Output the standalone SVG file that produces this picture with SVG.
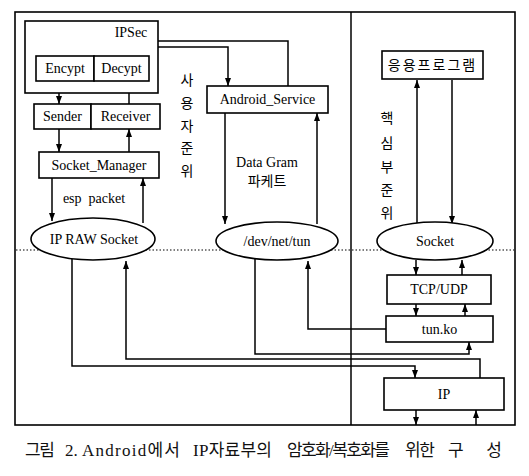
<svg xmlns="http://www.w3.org/2000/svg" width="529" height="476" viewBox="0 0 529 476">
<style>
.box{fill:#fff;stroke:#000;stroke-width:1.6}
.ln{fill:none;stroke:#000;stroke-width:1.5}
.t{font-family:"Liberation Serif","Times New Roman",serif;font-size:14px;fill:#000;text-anchor:middle}
.k{font-family:"Noto Sans CJK KR","Noto Sans",sans-serif;font-size:14px;fill:#000;text-anchor:middle}
</style>
<defs>
<marker id="ah" viewBox="0 0 8 6" refX="8" refY="3" markerWidth="8" markerHeight="6" markerUnits="userSpaceOnUse" orient="auto">
<path d="M0,0 L8,3 L0,6 Z" fill="#000"/>
</marker>
</defs>
<rect width="529" height="476" fill="#fff"/>
<g id="frame">
<rect x="15" y="12" width="500" height="413" fill="none" stroke="#000" stroke-width="1.6"/>
<line x1="351" y1="12" x2="351" y2="425" stroke="#000" stroke-width="1.5"/>
<line x1="16" y1="250" x2="514" y2="250" stroke="#000" stroke-width="1.2" stroke-dasharray="1.5,2"/>
</g>
<g id="connectors">
<polyline class="ln" points="288,86 288,41 66,41 66,56" marker-end="url(#ah)"/>
<polyline class="ln" points="122,56 122,47 228,47 228,86" marker-end="url(#ah)"/>
<line class="ln" x1="59" y1="81" x2="59" y2="104" marker-end="url(#ah)"/>
<line class="ln" x1="129" y1="104" x2="129" y2="81" marker-end="url(#ah)"/>
<line class="ln" x1="59" y1="129" x2="59" y2="152" marker-end="url(#ah)"/>
<line class="ln" x1="129" y1="152" x2="129" y2="129" marker-end="url(#ah)"/>
<line class="ln" x1="52" y1="178" x2="52" y2="221" marker-end="url(#ah)"/>
<line class="ln" x1="143" y1="223" x2="143" y2="178" marker-end="url(#ah)"/>
<line class="ln" x1="225" y1="113" x2="225" y2="224" marker-end="url(#ah)"/>
<line class="ln" x1="317" y1="224" x2="317" y2="113" marker-end="url(#ah)"/>
<line class="ln" x1="417" y1="224" x2="417" y2="80" marker-end="url(#ah)"/>
<line class="ln" x1="452" y1="80" x2="452" y2="224" marker-end="url(#ah)"/>
<line class="ln" x1="416" y1="260" x2="416" y2="275" marker-end="url(#ah)"/>
<line class="ln" x1="462" y1="275" x2="462" y2="260" marker-end="url(#ah)"/>
<line class="ln" x1="416" y1="304" x2="416" y2="316" marker-end="url(#ah)"/>
<line class="ln" x1="465" y1="316" x2="465" y2="304" marker-end="url(#ah)"/>
<polyline class="ln" points="72,258 72,366 415,366 415,378" marker-end="url(#ah)"/>
<polyline class="ln" points="480,378 480,359 126,359 126,261" marker-end="url(#ah)"/>
<polyline class="ln" points="255,259 255,354 469,354 469,342" marker-end="url(#ah)"/>
<polyline class="ln" points="386,329 308,329 308,261" marker-end="url(#ah)"/>
<line class="ln" x1="416" y1="410" x2="416" y2="425" marker-end="url(#ah)"/>
<line class="ln" x1="476" y1="425" x2="476" y2="410" marker-end="url(#ah)"/>
</g>
<g id="ipsec">
<rect class="box" x="25" y="21" width="133" height="72" fill="none"/>
<text class="t" x="131" y="37" font-size="15">IPSec</text>
</g>
<g id="encypt">
<rect class="box" x="36" y="56" width="58" height="25"/>
<text class="t" x="65" y="73">Encypt</text>
</g>
<g id="decypt">
<rect class="box" x="94" y="56" width="55" height="25"/>
<text class="t" x="121.5" y="73">Decypt</text>
</g>
<g id="sender">
<rect class="box" x="34" y="104" width="57" height="25"/>
<text class="t" x="62.5" y="121">Sender</text>
</g>
<g id="receiver">
<rect class="box" x="91" y="104" width="69" height="25"/>
<text class="t" x="125.5" y="121">Receiver</text>
</g>
<g id="socket_manager">
<rect class="box" x="39" y="152" width="120" height="26"/>
<text class="t" x="99" y="170">Socket_Manager</text>
</g>
<g id="esp_label">
<text class="t" x="94" y="203" xml:space="preserve">esp  packet</text>
</g>
<g id="ip_raw_socket">
<ellipse class="box" cx="93" cy="239" rx="62" ry="21"/>
<text class="t" x="94" y="244" font-size="15">IP RAW Socket</text>
</g>
<g id="android_service">
<rect class="box" x="207" y="86" width="121" height="27"/>
<text class="t" x="267.5" y="104">Android_Service</text>
</g>
<g id="datagram_label">
<text class="t" x="267" y="167" font-size="14">Data Gram</text>
<text class="k" x="267" y="186">파케트</text>
</g>
<g id="dev_net_tun">
<ellipse class="box" cx="277" cy="241" rx="61" ry="19"/>
<text class="t" x="277" y="246" font-size="15">/dev/net/tun</text>
</g>
<g id="user_level_label">
<text class="k" x="187" y="85">사</text>
<text class="k" x="187" y="108">용</text>
<text class="k" x="187" y="131">자</text>
<text class="k" x="187" y="153">준</text>
<text class="k" x="187" y="176">위</text>
</g>
<g id="app">
<rect class="box" x="382" y="51" width="101" height="28"/>
<text class="k" x="432.5" y="70" font-size="13" letter-spacing="2">응용프로그램</text>
</g>
<g id="kernel_level_label">
<text class="k" x="387" y="123">핵</text>
<text class="k" x="387" y="148">심</text>
<text class="k" x="387" y="172">부</text>
<text class="k" x="387" y="195">준</text>
<text class="k" x="387" y="218">위</text>
</g>
<g id="socket">
<ellipse class="box" cx="435" cy="241" rx="58" ry="19"/>
<text class="t" x="435" y="246" font-size="15">Socket</text>
</g>
<g id="tcp_udp">
<rect class="box" x="387" y="275" width="104" height="29"/>
<text class="t" x="439" y="294" font-size="15">TCP/UDP</text>
</g>
<g id="tun_ko">
<rect class="box" x="386" y="316" width="107" height="26"/>
<text class="t" x="439.5" y="334">tun.ko</text>
</g>
<g id="ip">
<rect class="box" x="384" y="378" width="120" height="32"/>
<text class="t" x="444" y="399" font-size="15">IP</text>
</g>
<g id="caption">
<text y="456" font-family="'Liberation Serif','Noto Sans CJK KR',serif" font-size="17" fill="#111"><tspan x="25" textLength="30" lengthAdjust="spacing">그림</tspan><tspan x="65">2.</tspan><tspan x="82" textLength="98" lengthAdjust="spacing">Android에서</tspan><tspan x="193" textLength="79" lengthAdjust="spacing">IP자료부의</tspan><tspan x="287" textLength="103" lengthAdjust="spacing">암호화/복호화를</tspan><tspan x="405" textLength="30" lengthAdjust="spacing">위한</tspan><tspan x="448" textLength="54" lengthAdjust="spacing">구성</tspan></text>
</g>
</svg>
